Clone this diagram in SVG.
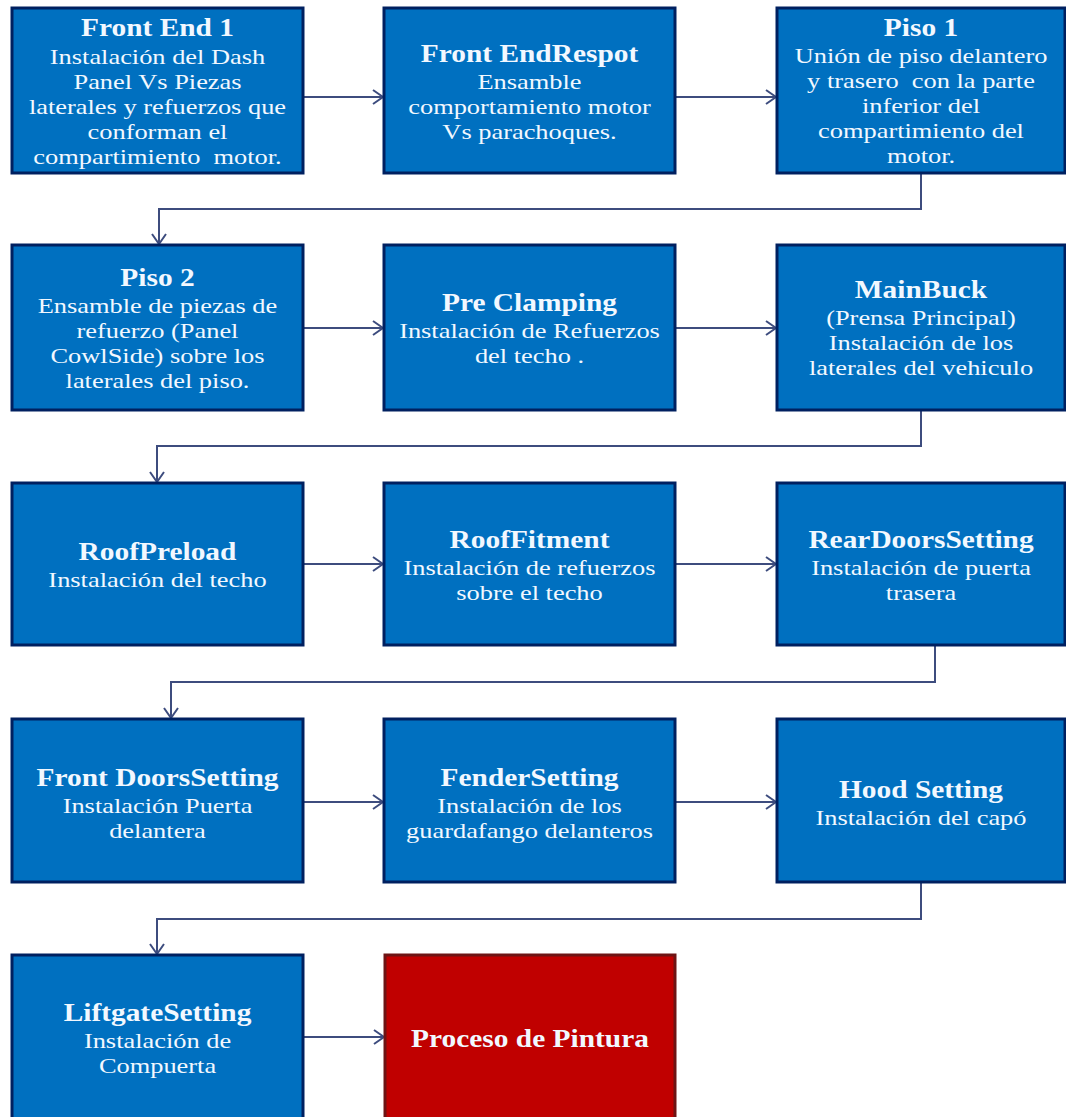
<svg xmlns="http://www.w3.org/2000/svg" width="1066" height="1117" viewBox="0 0 1066 1117">
<style>
.box{fill:#0070C0;stroke:#002060;stroke-width:3}
.red{fill:#C00000;stroke:#6E1414;stroke-width:3}
.t{font-family:"Liberation Serif","Times New Roman",serif;fill:#F2F8FF;text-anchor:middle;white-space:pre}
.h{font-weight:bold;font-size:24.5px}
.b{font-size:22px}
.conn{stroke:#3D4C7E;stroke-width:2;fill:none}
</style>
<defs>
<marker id="arr" markerUnits="userSpaceOnUse" markerWidth="14" markerHeight="16" refX="11" refY="8" orient="auto">
<path d="M1,1 L11,8 L1,15" fill="none" stroke="#3D4C7E" stroke-width="2"/>
</marker>
</defs>
<rect width="1066" height="1117" fill="#FFFFFF"/>
<g id="connectors">
<path class="conn" d="M303,97 L383,97" marker-end="url(#arr)"/>
<path class="conn" d="M675,97 L776,97" marker-end="url(#arr)"/>
<path class="conn" d="M921,173 L921,209 L159,209 L159,244" marker-end="url(#arr)"/>
<path class="conn" d="M303,328 L383,328" marker-end="url(#arr)"/>
<path class="conn" d="M675,328 L776,328" marker-end="url(#arr)"/>
<path class="conn" d="M921,410 L921,446 L157,446 L157,482" marker-end="url(#arr)"/>
<path class="conn" d="M303,564 L383,564" marker-end="url(#arr)"/>
<path class="conn" d="M675,564 L776,564" marker-end="url(#arr)"/>
<path class="conn" d="M935,645 L935,682 L171,682 L171,718" marker-end="url(#arr)"/>
<path class="conn" d="M303,802 L383,802" marker-end="url(#arr)"/>
<path class="conn" d="M675,802 L776,802" marker-end="url(#arr)"/>
<path class="conn" d="M921,882 L921,919 L157,919 L157,954" marker-end="url(#arr)"/>
<path class="conn" d="M303,1037 L384,1037" marker-end="url(#arr)"/>
</g>
<g id="n1">
<rect class="box" x="12" y="8" width="291" height="165"/>
<text class="t" transform="translate(157.5,0) scale(1.2,1)"><tspan class="h" x="0" y="36">Front End 1</tspan><tspan class="b" x="0" y="64">Instalación del Dash</tspan><tspan class="b" x="0" y="89">Panel Vs Piezas</tspan><tspan class="b" x="0" y="114">laterales y refuerzos que</tspan><tspan class="b" x="0" y="139">conforman el</tspan><tspan class="b" x="0" y="164">compartimiento  motor.</tspan></text>
</g>
<g id="n2">
<rect class="box" x="384" y="8" width="291" height="165"/>
<text class="t" transform="translate(529.5,0) scale(1.2,1)"><tspan class="h" x="0" y="62">Front EndRespot</tspan><tspan class="b" x="0" y="89">Ensamble</tspan><tspan class="b" x="0" y="114">comportamiento motor</tspan><tspan class="b" x="0" y="139">Vs parachoques.</tspan></text>
</g>
<g id="n3">
<rect class="box" x="777" y="8" width="288" height="165"/>
<text class="t" transform="translate(921,0) scale(1.2,1)"><tspan class="h" x="0" y="36">Piso 1</tspan><tspan class="b" x="0" y="63">Unión de piso delantero</tspan><tspan class="b" x="0" y="88">y trasero  con la parte</tspan><tspan class="b" x="0" y="113">inferior del</tspan><tspan class="b" x="0" y="138">compartimiento del</tspan><tspan class="b" x="0" y="163">motor.</tspan></text>
</g>
<g id="n4">
<rect class="box" x="12" y="245" width="291" height="165"/>
<text class="t" transform="translate(157.5,0) scale(1.2,1)"><tspan class="h" x="0" y="286">Piso 2</tspan><tspan class="b" x="0" y="313">Ensamble de piezas de</tspan><tspan class="b" x="0" y="338">refuerzo (Panel</tspan><tspan class="b" x="0" y="363">CowlSide) sobre los</tspan><tspan class="b" x="0" y="388">laterales del piso.</tspan></text>
</g>
<g id="n5">
<rect class="box" x="384" y="245" width="291" height="165"/>
<text class="t" transform="translate(529.5,0) scale(1.2,1)"><tspan class="h" x="0" y="311">Pre Clamping</tspan><tspan class="b" x="0" y="338">Instalación de Refuerzos</tspan><tspan class="b" x="0" y="363">del techo .</tspan></text>
</g>
<g id="n6">
<rect class="box" x="777" y="245" width="288" height="165"/>
<text class="t" transform="translate(921,0) scale(1.2,1)"><tspan class="h" x="0" y="298">MainBuck</tspan><tspan class="b" x="0" y="325">(Prensa Principal)</tspan><tspan class="b" x="0" y="350">Instalación de los</tspan><tspan class="b" x="0" y="375">laterales del vehiculo</tspan></text>
</g>
<g id="n7">
<rect class="box" x="12" y="483" width="291" height="162"/>
<text class="t" transform="translate(157.5,0) scale(1.2,1)"><tspan class="h" x="0" y="560">RoofPreload</tspan><tspan class="b" x="0" y="587">Instalación del techo</tspan></text>
</g>
<g id="n8">
<rect class="box" x="384" y="483" width="291" height="162"/>
<text class="t" transform="translate(529.5,0) scale(1.2,1)"><tspan class="h" x="0" y="548">RoofFitment</tspan><tspan class="b" x="0" y="575">Instalación de refuerzos</tspan><tspan class="b" x="0" y="600">sobre el techo</tspan></text>
</g>
<g id="n9">
<rect class="box" x="777" y="483" width="288" height="162"/>
<text class="t" transform="translate(921,0) scale(1.2,1)"><tspan class="h" x="0" y="548">RearDoorsSetting</tspan><tspan class="b" x="0" y="575">Instalación de puerta</tspan><tspan class="b" x="0" y="600">trasera</tspan></text>
</g>
<g id="n10">
<rect class="box" x="12" y="719" width="291" height="163"/>
<text class="t" transform="translate(157.5,0) scale(1.2,1)"><tspan class="h" x="0" y="786">Front DoorsSetting</tspan><tspan class="b" x="0" y="813">Instalación Puerta</tspan><tspan class="b" x="0" y="838">delantera</tspan></text>
</g>
<g id="n11">
<rect class="box" x="384" y="719" width="291" height="163"/>
<text class="t" transform="translate(529.5,0) scale(1.2,1)"><tspan class="h" x="0" y="786">FenderSetting</tspan><tspan class="b" x="0" y="813">Instalación de los</tspan><tspan class="b" x="0" y="838">guardafango delanteros</tspan></text>
</g>
<g id="n12">
<rect class="box" x="777" y="719" width="288" height="163"/>
<text class="t" transform="translate(921,0) scale(1.2,1)"><tspan class="h" x="0" y="798">Hood Setting</tspan><tspan class="b" x="0" y="825">Instalación del capó</tspan></text>
</g>
<g id="n13">
<rect class="box" x="12" y="955" width="291" height="168"/>
<text class="t" transform="translate(157.5,0) scale(1.2,1)"><tspan class="h" x="0" y="1021">LiftgateSetting</tspan><tspan class="b" x="0" y="1048">Instalación de</tspan><tspan class="b" x="0" y="1073">Compuerta</tspan></text>
</g>
<g id="n14">
<rect class="red" x="385" y="955" width="290" height="168"/>
<text class="t" transform="translate(530,0) scale(1.2,1)"><tspan class="h" x="0" y="1047">Proceso de Pintura</tspan></text>
</g>
</svg>
